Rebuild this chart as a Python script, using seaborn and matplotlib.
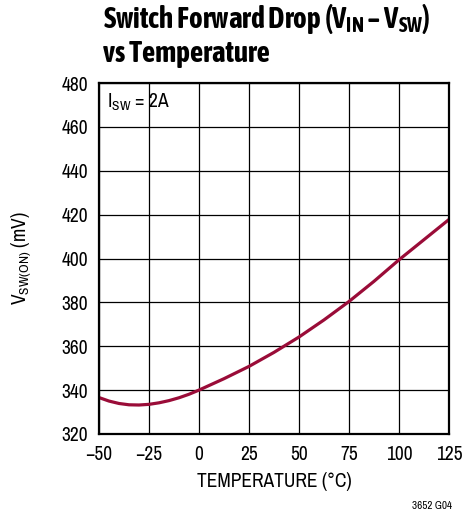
import matplotlib
matplotlib.use("Agg")
import matplotlib.pyplot as plt
import seaborn as sns
import pandas as pd
from matplotlib import font_manager

temps = [-50, -45, -40, -35, -30, -25, -20, -15, -10, -5, 0, 12.5, 25, 37.5, 50, 62.5, 75, 87.5, 100, 112.5, 125]
vsw = [336.6, 335.0, 333.9, 333.3, 333.2, 333.5, 334.2, 335.2, 336.5, 338.1, 340.0,
       345.2, 350.8, 357.2, 364.2, 372.0, 380.4, 389.6, 399.4, 408.6, 417.8]
xticks = [-50, -25, 0, 25, 50, 75, 100, 125]
xticklabels = ["\u221250", "\u221225", "0", "25", "50", "75", "100", "125"]
yticks = [320, 340, 360, 380, 400, 420, 440, 460, 480]

sns.set_theme(style="white")
entries = font_manager.fontManager.ttflist


def wnum(f):
    if isinstance(f.weight, int):
        return f.weight
    return 700 if str(f.weight) == "bold" else 400


names = sorted({f.name for f in entries if ("Narrow" in f.name or "Condensed" in f.name)})
reg_fam = names[0] if names else "Liberation Sans"
bold_fam = None
for n in names:
    if any(f.name == n and wnum(f) >= 600 for f in entries):
        bold_fam = n
        break
if bold_fam is None:
    bold_fam = reg_fam

plt.rcParams["font.family"] = [reg_fam, "DejaVu Sans"]
plt.rcParams["mathtext.fontset"] = "custom"
plt.rcParams["mathtext.rm"] = reg_fam
plt.rcParams["mathtext.it"] = reg_fam
plt.rcParams["mathtext.bf"] = bold_fam + ":bold"

df = pd.DataFrame({"T": temps, "V": vsw})

fig = plt.figure(figsize=(4.66, 5.16), dpi=100)
ax = fig.add_axes([0.2124, 0.159, 0.7511, 0.680])
sns.lineplot(data=df, x="T", y="V", ax=ax, color="#9a0c38", linewidth=2.3)

ax.set_xlim(-50, 125)
ax.set_ylim(320, 480)
ax.set_xticks(xticks)
ax.set_xticklabels(xticklabels)
ax.set_yticks(yticks)
ax.grid(True, color="black", linewidth=0.9)
ax.set_axisbelow(True)
for s in ax.spines.values():
    s.set_color("black")
    s.set_linewidth(1.6)
ax.tick_params(axis="x", labelsize=14, colors="black", length=0, pad=8)
ax.tick_params(axis="y", labelsize=14, colors="black", length=0, pad=8)
ax.set_xlabel("TEMPERATURE (\u00b0C)", fontsize=14, color="black", labelpad=6)
ax.set_ylabel(r"V$_{\mathrm{SW(ON)}}$ (mV)", fontsize=14, color="black", labelpad=20)

ax.text(0.022, 0.975, r"I$_{\mathrm{SW}}$ = 2A", transform=ax.transAxes,
        fontsize=14, va="top", ha="left", color="black")

fig.text(0.221, 0.945, "Switch Forward Drop (V$_{\\mathbf{IN}}$ \u2013 V$_{\\mathbf{SW}}$)",
         fontsize=21, fontweight="bold", family=[bold_fam, "DejaVu Sans"],
         ha="left", va="baseline", color="black")
fig.text(0.221, 0.880, "vs Temperature", fontsize=21, fontweight="bold",
         family=[bold_fam, "DejaVu Sans"], ha="left", va="baseline", color="black")
fig.text(0.970, 0.010, "3652 G04", fontsize=8, ha="right", va="bottom", color="black")

fig.savefig("out.png", dpi=100)
